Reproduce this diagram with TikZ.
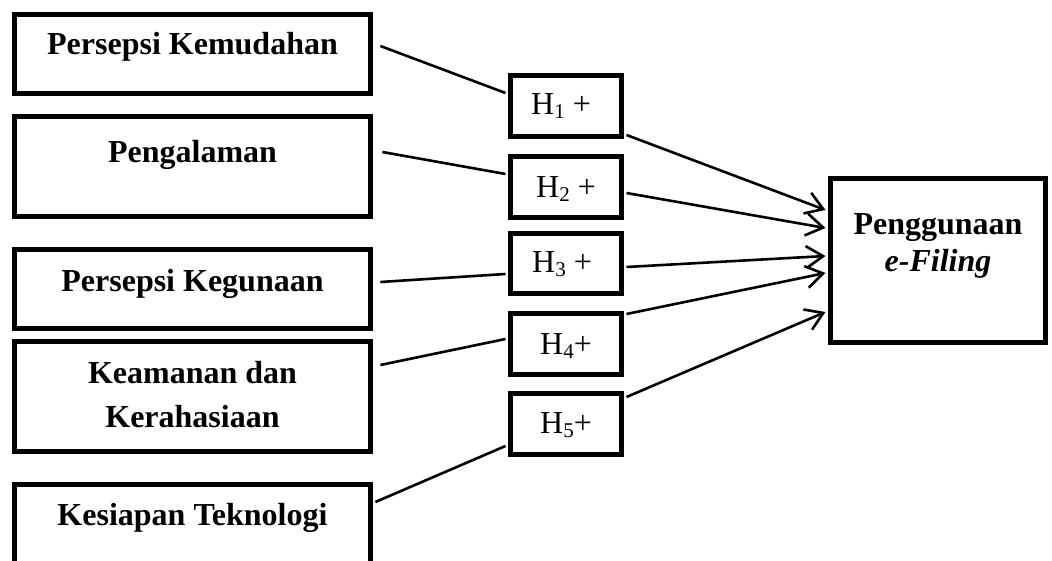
\documentclass[tikz,border=0pt]{standalone}
\usepackage{fontspec}
\setmainfont{Liberation Serif}
\usetikzlibrary{arrows.meta,calc}
\newcommand\hsub[1]{\raisebox{-4pt}{\fontsize{21}{21}\selectfont #1}}
\begin{document}
\begin{tikzpicture}[x=1pt,y=-1pt,
 box/.style={draw,line width=4.8pt,inner sep=0pt,minimum width=356.2pt},
 hbox/.style={draw,line width=5pt,inner sep=0pt,minimum width=111pt,minimum height=61pt},
 bigbox/.style={draw,line width=5pt,inner sep=0pt,minimum width=215pt,minimum height=164pt},
 lbl/.style={anchor=base,inner sep=0pt,font=\fontsize{32}{38}\selectfont\bfseries},
 hlbl/.style={anchor=base,inner sep=0pt,font=\fontsize{32}{38}\selectfont},
 link/.style={line width=2.6pt},
 arr/.style={line width=2.6pt,-{Straight Barb[length=17pt,width=22pt]}}]
\clip (0,0) rectangle (1052,561);
% left boxes
\node[box,minimum height=79.2pt] (b1) at (192.5,54) {};
\node[box,minimum height=100.2pt] (b2) at (192.5,166.5) {};
\node[box,minimum height=79.2pt] (b3) at (192.5,289) {};
\node[box,minimum height=110.2pt] (b4) at (192.5,396.5) {};
\node[box,minimum height=85.2pt] (b5) at (192.5,527) {};
\node[lbl] (t1) at (192.5,55) {Persepsi Kemudahan};
\node[lbl] (t2) at (192.5,163) {Pengalaman};
\node[lbl] (t3) at (192.5,292) {Persepsi Kegunaan};
\node[lbl] (t4a) at (192.5,383) {Keamanan dan};
\node[lbl] (t4b) at (192.5,427) {Kerahasiaan};
\node[lbl] (t5) at (192.5,525) {Kesiapan Teknologi};
% hypothesis boxes
\node[hbox] (h1) at (566,106) {};
\node[hbox] (h2) at (566,187) {};
\node[hbox,minimum height=60pt] (h3) at (566,263.5) {};
\node[hbox] (h4) at (566,344) {};
\node[hbox] (h5) at (566,424) {};
\node[hlbl] (l1) at (561,115) {H\hsub{1} +};
\node[hlbl] (l2) at (566,198) {H\hsub{2} +};
\node[hlbl] (l3) at (562,273) {H\hsub{3} +};
\node[hlbl] (l4) at (566,354) {H\hsub{4}+};
\node[hlbl] (l5) at (566,433) {H\hsub{5}+};
% target
\node[bigbox] (y) at (938,260.5) {};
\node[lbl] (ty1) at (938,235) {Penggunaan};
\node[lbl] (ty2) at (938,272) {\itshape e-Filing};
% left links
\draw[link] ([shift={(7.4,-8)}]b1.east) -- ([shift={(-2.5,-13)}]h1.west);
\draw[link] ([shift={(9.4,-14.5)}]b2.east) -- ([shift={(-2.5,-13)}]h2.west);
\draw[link] ([shift={(7.4,-7)}]b3.east) -- ([shift={(-2.5,10.5)}]h3.west);
\draw[link] ([shift={(7.4,-31.5)}]b4.east) -- ([shift={(-2.5,-5)}]h4.west);
\draw[link] ([shift={(2.4,-25)}]b5.east) -- ([shift={(-2.5,22)}]h5.west);
% arrows
\draw[arr] ([shift={(2.5,29)}]h1.east) -- ([shift={(-2.5,-50.5)}]y.west);
\draw[arr] ([shift={(2.5,6)}]h2.east) -- ([shift={(-2.5,-32.5)}]y.west);
\draw[arr] ([shift={(2.5,3.5)}]h3.east) -- ([shift={(-2.5,-4.5)}]y.west);
\draw[arr] ([shift={(2.5,-30)}]h4.east) -- ([shift={(-2.5,12.5)}]y.west);
\draw[arr] ([shift={(2.5,-27)}]h5.east) -- ([shift={(-2.5,51.5)}]y.west);
\end{tikzpicture}
\end{document}
